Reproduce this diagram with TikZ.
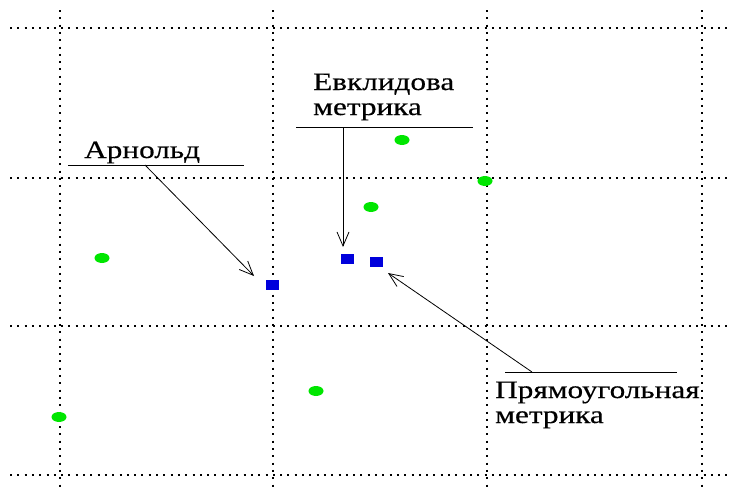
\documentclass[tikz,border=0pt]{standalone}
\usepackage{fontspec}
\setmainfont{Liberation Serif}[FakeStretch=1.25,FakeBold=0.4]
\usetikzlibrary{arrows.meta,shapes.geometric}
\definecolor{dotgreen}{RGB}{0,230,0}
\definecolor{sqblue}{RGB}{0,0,220}
\tikzset{
  gridline/.style={line width=2pt, dash pattern=on 2pt off 5.3pt},
  gpt/.style={ellipse, fill=dotgreen, minimum width=15pt, minimum height=10pt, inner sep=0pt},
  sq/.style={rectangle, fill=sqblue, minimum width=13pt, minimum height=10pt, inner sep=0pt},
  lbl/.style={font=\fontsize{25pt}{25pt}\selectfont, inner sep=0pt, align=left},
  uline/.style={line width=1pt},
  arr/.style={line width=0.8pt, -{Straight Barb[length=14pt,width=12pt,line width=0.8pt]}}
}
\begin{document}
\begin{tikzpicture}[x=1pt,y=-1pt]
\useasboundingbox (0,0) rectangle (729,493);
% grid
\foreach \x/\n in {60/a,273/b,487/c,702/d}{
  \coordinate (vt\n) at (\x,10); \coordinate (vb\n) at (\x,490);
  \draw[gridline] (vt\n) -- (vb\n);
}
\foreach \y/\n in {28/a,178/b,326/c,475/d}{
  \coordinate (hl\n) at (10,\y); \coordinate (hr\n) at (729,\y);
  \draw[gridline] (hl\n) -- (hr\n);
}
% green points
\node[gpt] (g1) at (102,258) {};
\node[gpt] (g2) at (402,140) {};
\node[gpt] (g3) at (485,181) {};
\node[gpt] (g4) at (371,207) {};
\node[gpt] (g5) at (316,391) {};
\node[gpt] (g6) at (59,417) {};
% blue squares
\node[sq] (arn) at (272,285) {};
\node[sq] (euc) at (347,259) {};
\node[sq] (rect) at (376,262) {};
% labels
\node[lbl, anchor=base west] (tarn) at (84,158) {Арнольд};
\coordinate (arnL) at (68,165); \coordinate (arnR) at (244,165);
\draw[uline] (arnL) -- (arnR);
\coordinate (arnS) at (145,165); \coordinate (arnE) at (254,276);
\draw[arr] (arnS) -- (arnE);

\node[lbl, anchor=base west] (teuc) at (313,115) {Евклидова\\метрика};
\coordinate (eucL) at (296,127); \coordinate (eucR) at (473,127);
\draw[uline] (eucL) -- (eucR);
\coordinate (eucS) at (343,127); \coordinate (eucE) at (343,247);
\draw[arr] (eucS) -- (eucE);

\node[lbl, anchor=base west] (trect) at (495,423) {Прямоугольная\\метрика};
\coordinate (rectL) at (505,372); \coordinate (rectR) at (677,372);
\draw[uline] (rectL) -- (rectR);
\coordinate (rectS) at (532,372); \coordinate (rectE) at (388,273);
\draw[arr] (rectS) -- (rectE);
\end{tikzpicture}
\end{document}
